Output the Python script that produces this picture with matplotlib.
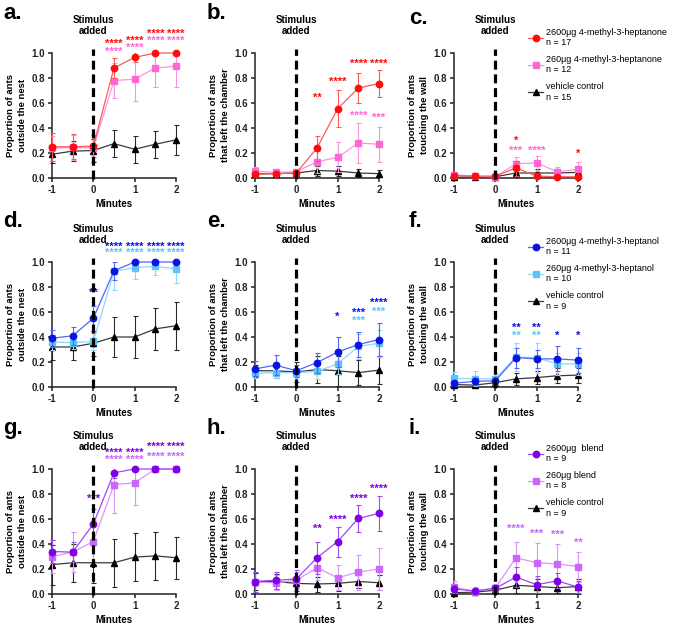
import matplotlib
matplotlib.use('Agg')
import matplotlib.pyplot as plt
from matplotlib.patches import Rectangle
from matplotlib.transforms import blended_transform_factory

plt.rcParams['font.family'] = ['Liberation Sans', 'DejaVu Sans']
plt.rcParams['axes.unicode_minus'] = False

minutes = [-1, -0.5, 0, 0.5, 1, 1.5, 2]

# row 1 - 4-methyl-3-heptanone
a_high = [0.25, 0.25, 0.255, 0.88, 0.965, 1.0, 1.0]
a_high_err = [0.11, 0.10, 0.09, 0.08, 0.04, 0.0, 0.0]
a_low = [0.24, 0.245, 0.24, 0.78, 0.79, 0.88, 0.895]
a_low_err = [0.10, 0.10, 0.10, 0.14, 0.17, 0.15, 0.17]
a_veh = [0.19, 0.215, 0.22, 0.275, 0.23, 0.27, 0.305]
a_veh_err = [0.07, 0.08, 0.09, 0.11, 0.11, 0.11, 0.12]

b_high = [0.03, 0.035, 0.04, 0.24, 0.555, 0.72, 0.755]
b_high_err = [0.02, 0.02, 0.02, 0.10, 0.15, 0.12, 0.11]
b_low = [0.055, 0.045, 0.05, 0.13, 0.165, 0.28, 0.27]
b_low_err = [0.03, 0.02, 0.02, 0.09, 0.12, 0.16, 0.14]
b_veh = [0.035, 0.035, 0.04, 0.06, 0.055, 0.04, 0.035]
b_veh_err = [0.02, 0.02, 0.02, 0.04, 0.04, 0.03, 0.03]

c_high = [0.02, 0.015, 0.015, 0.08, 0.015, 0.01, 0.01]
c_high_err = [0.02, 0.01, 0.01, 0.06, 0.02, 0.01, 0.01]
c_low = [0.025, 0.015, 0.01, 0.115, 0.12, 0.05, 0.07]
c_low_err = [0.02, 0.01, 0.01, 0.05, 0.06, 0.04, 0.06]
c_veh = [0.005, 0.01, 0.01, 0.04, 0.04, 0.04, 0.045]
c_veh_err = [0.01, 0.01, 0.01, 0.03, 0.03, 0.03, 0.03]

# row 2 - 4-methyl-3-heptanol
d_high = [0.39, 0.41, 0.55, 0.93, 1.0, 1.0, 1.0]
d_high_err = [0.07, 0.07, 0.10, 0.07, 0.0, 0.0, 0.0]
d_low = [0.36, 0.355, 0.365, 0.925, 0.955, 0.965, 0.945]
d_low_err = [0.06, 0.05, 0.07, 0.15, 0.09, 0.07, 0.11]
d_veh = [0.32, 0.32, 0.35, 0.40, 0.40, 0.465, 0.49]
d_veh_err = [0.10, 0.10, 0.10, 0.16, 0.17, 0.17, 0.19]

e_high = [0.145, 0.175, 0.13, 0.195, 0.28, 0.34, 0.38]
e_high_err = [0.06, 0.08, 0.05, 0.08, 0.12, 0.10, 0.13]
e_low = [0.11, 0.115, 0.115, 0.125, 0.185, 0.325, 0.35]
e_low_err = [0.04, 0.04, 0.04, 0.06, 0.08, 0.10, 0.11]
e_veh = [0.13, 0.13, 0.12, 0.14, 0.13, 0.115, 0.135]
e_veh_err = [0.05, 0.06, 0.08, 0.11, 0.12, 0.10, 0.11]

f_high = [0.03, 0.045, 0.05, 0.235, 0.225, 0.225, 0.215]
f_high_err = [0.02, 0.03, 0.03, 0.08, 0.07, 0.10, 0.10]
f_low = [0.07, 0.065, 0.065, 0.24, 0.235, 0.185, 0.185]
f_low_err = [0.05, 0.06, 0.05, 0.11, 0.12, 0.09, 0.09]
f_veh = [0.02, 0.015, 0.035, 0.065, 0.075, 0.09, 0.095]
f_veh_err = [0.02, 0.02, 0.02, 0.05, 0.05, 0.06, 0.06]

# row 3 - blend
g_high = [0.34, 0.335, 0.56, 0.97, 1.0, 1.0, 1.0]
g_high_err = [0.09, 0.08, 0.12, 0.04, 0.0, 0.0, 0.0]
g_low = [0.30, 0.335, 0.42, 0.875, 0.89, 1.0, 1.0]
g_low_err = [0.13, 0.16, 0.17, 0.23, 0.18, 0.0, 0.0]
g_veh = [0.235, 0.25, 0.25, 0.25, 0.295, 0.305, 0.29]
g_veh_err = [0.16, 0.15, 0.16, 0.19, 0.19, 0.19, 0.17]

h_high = [0.10, 0.11, 0.12, 0.29, 0.42, 0.605, 0.645]
h_high_err = [0.08, 0.07, 0.07, 0.13, 0.12, 0.11, 0.14]
h_low = [0.095, 0.09, 0.11, 0.21, 0.13, 0.175, 0.20]
h_low_err = [0.08, 0.06, 0.07, 0.10, 0.10, 0.14, 0.17]
h_veh = [0.10, 0.10, 0.085, 0.08, 0.085, 0.10, 0.09]
h_veh_err = [0.07, 0.06, 0.06, 0.06, 0.06, 0.05, 0.06]

i_high = [0.04, 0.025, 0.045, 0.135, 0.075, 0.105, 0.055]
i_high_err = [0.03, 0.02, 0.03, 0.08, 0.07, 0.06, 0.05]
i_low = [0.055, 0.02, 0.05, 0.29, 0.25, 0.24, 0.22]
i_low_err = [0.05, 0.04, 0.03, 0.13, 0.16, 0.16, 0.12]
i_veh = [0.01, 0.015, 0.03, 0.07, 0.06, 0.05, 0.06]
i_veh_err = [0.02, 0.01, 0.02, 0.06, 0.06, 0.04, 0.06]

# significance stars: (minute, height, stars, 'high'/'low')
a_stars = [(0.5, 1.07, '****', 'high'), (0.5, 1.01, '****', 'low'),
           (1, 1.10, '****', 'high'), (1, 1.04, '****', 'low'),
           (1.5, 1.15, '****', 'high'), (1.5, 1.10, '****', 'low'),
           (2, 1.15, '****', 'high'), (2, 1.10, '****', 'low')]
b_stars = [(0.5, 0.64, '**', 'high'), (1, 0.77, '****', 'high'),
           (1.5, 0.91, '****', 'high'), (2, 0.91, '****', 'high'),
           (1.5, 0.50, '****', 'low'), (2, 0.48, '***', 'low')]
c_stars = [(0.5, 0.30, '*', 'high'), (0.5, 0.22, '***', 'low'),
           (1, 0.22, '****', 'low'), (2, 0.19, '*', 'high')]
d_stars = [(0, 0.75, '**', 'high')] + \
          [(m, 1.125, '****', 'high') for m in [0.5, 1, 1.5, 2]] + \
          [(m, 1.07, '****', 'low') for m in [0.5, 1, 1.5, 2]]
e_stars = [(1, 0.56, '*', 'high'), (1.5, 0.59, '***', 'high'), (1.5, 0.53, '***', 'low'),
           (2, 0.67, '****', 'high'), (2, 0.60, '***', 'low')]
f_stars = [(0.5, 0.47, '**', 'high'), (0.5, 0.41, '**', 'low'),
           (1, 0.47, '**', 'high'), (1, 0.41, '**', 'low'),
           (1.5, 0.41, '*', 'high'), (2, 0.41, '*', 'high')]
g_stars = [(0, 0.76, '***', 'high'),
           (0.5, 1.13, '****', 'high'), (0.5, 1.07, '****', 'low'),
           (1, 1.13, '****', 'high'), (1, 1.07, '****', 'low'),
           (1.5, 1.18, '****', 'high'), (1.5, 1.10, '****', 'low'),
           (2, 1.18, '****', 'high'), (2, 1.10, '****', 'low')]
h_stars = [(0.5, 0.52, '**', 'high'), (1, 0.59, '****', 'high'),
           (1.5, 0.76, '****', 'high'), (2, 0.84, '****', 'high')]
i_stars = [(0.5, 0.52, '****', 'low'), (1, 0.48, '***', 'low'),
           (1.5, 0.47, '***', 'low'), (2, 0.41, '**', 'low')]

ylabels = ['Proportion of ants\noutside the nest',
           'Proportion of ants\nthat left the chamber',
           'Proportion of ants\ntouching the wall']

row_labels = [['2600\u03bcg 4-methyl-3-heptanone\nn = 17', '260\u03bcg 4-methyl-3-heptanone\nn = 12', 'vehicle control\nn = 15'],
              ['2600\u03bcg 4-methyl-3-heptanol\nn = 11', '260\u03bcg 4-methyl-3-heptanol\nn = 10', 'vehicle control\nn = 9'],
              ['2600\u03bcg  blend\nn = 9', '260\u03bcg blend\nn = 8', 'vehicle control\nn = 9']]

# marker colour, line colour
row_colors = [{'high': ('#FF0D0D', '#FF5A5A'), 'low': ('#FF66D6', '#FF92E2')},
              {'high': ('#0A14E0', '#5563FF'), 'low': ('#5CC4F6', '#8FD8FA')},
              {'high': ('#7F00E6', '#A048F2'), 'low': ('#CB66FA', '#DA95FC')}]

panels = [[('a.', a_high, a_high_err, a_low, a_low_err, a_veh, a_veh_err, a_stars),
           ('b.', b_high, b_high_err, b_low, b_low_err, b_veh, b_veh_err, b_stars),
           ('c.', c_high, c_high_err, c_low, c_low_err, c_veh, c_veh_err, c_stars)],
          [('d.', d_high, d_high_err, d_low, d_low_err, d_veh, d_veh_err, d_stars),
           ('e.', e_high, e_high_err, e_low, e_low_err, e_veh, e_veh_err, e_stars),
           ('f.', f_high, f_high_err, f_low, f_low_err, f_veh, f_veh_err, f_stars)],
          [('g.', g_high, g_high_err, g_low, g_low_err, g_veh, g_veh_err, g_stars),
           ('h.', h_high, h_high_err, h_low, h_low_err, h_veh, h_veh_err, h_stars),
           ('i.', i_high, i_high_err, i_low, i_low_err, i_veh, i_veh_err, i_stars)]]

W, H = 676, 624
fig = plt.figure(figsize=(W / 100, H / 100), dpi=100)

col_left = [52, 255, 454]
row_bottom = [178, 387, 594]
label_x = [3, 207, 409]
label_base = [[19, 19, 24], [227, 227, 227], [434, 434, 434]]


def bars(ax, y, err, color, z):
    # error bars are kept inside 0..1 but may poke out sideways at -1 and 2
    cont = ax.errorbar(minutes, y, yerr=err, fmt='none', ecolor=color, elinewidth=0.8,
                       capsize=1.8, capthick=0.8, zorder=z)
    box = Rectangle((-0.1, 0), 1.2, 1, transform=blended_transform_factory(ax.transAxes, ax.transData))
    for art in list(cont.lines[1]) + list(cont.lines[2]):
        art.set_clip_path(box)


for r in range(3):
    cols = row_colors[r]
    for c in range(3):
        name, hi, hi_e, lo, lo_e, vh, vh_e, stars = panels[r][c]
        ax = fig.add_axes([col_left[c] / W, 1 - row_bottom[r] / H, 124 / W, 125 / H])

        # vehicle
        bars(ax, vh, vh_e, '#2a2a2a', 2)
        ax.plot(minutes, vh, color='#3a3a3a', lw=0.9, marker='^', ms=3.8, mfc='black', mec='black',
                clip_on=False, zorder=3, label=row_labels[r][2])
        # low dose
        bars(ax, lo, lo_e, cols['low'][1], 3)
        ax.plot(minutes, lo, color=cols['low'][1], lw=0.9, marker='s', ms=4.3, mfc=cols['low'][0],
                mec=cols['low'][0], clip_on=False, zorder=4, label=row_labels[r][1])
        # high dose
        bars(ax, hi, hi_e, cols['high'][1], 4)
        ax.plot(minutes, hi, color=cols['high'][1], lw=0.9, marker='o', ms=4.6, mfc=cols['high'][0],
                mec=cols['high'][0], clip_on=False, zorder=5, label=row_labels[r][0])

        ax.axvline(0, ymin=-0.01, ymax=1.03, color='black', lw=2.3, dashes=(2.8, 1.5),
                   clip_on=False, zorder=6)

        for (m, yy, s, grp) in stars:
            ax.text(m, yy, s, ha='center', va='center', color=cols[grp][0], fontsize=8,
                    fontweight='bold', clip_on=False)

        ax.text(0, 1.22, 'Stimulus\nadded', ha='center', va='center', fontsize=7,
                fontweight='bold', linespacing=1.1)

        ax.set_xlim(-1, 2)
        ax.set_ylim(0, 1)
        ax.set_xticks([-1, 0, 1, 2])
        ax.set_yticks([0, 0.2, 0.4, 0.6, 0.8, 1.0])
        ax.set_yticklabels(['0.0', '0.2', '0.4', '0.6', '0.8', '1.0'])
        for s in ['top', 'right']:
            ax.spines[s].set_visible(False)
        for s in ['left', 'bottom']:
            ax.spines[s].set_linewidth(1.1)
            ax.spines[s].set_color('#222222')
        ax.tick_params(direction='out', length=3, width=1.1, pad=2, labelsize=7, colors='#222222')
        for t in ax.get_xticklabels() + ax.get_yticklabels():
            t.set_fontweight('bold')
        ax.set_xlabel('Minutes', fontsize=7, fontweight='bold', labelpad=3)
        ax.set_ylabel(ylabels[c], fontsize=6.8, fontweight='bold', labelpad=3, linespacing=1.45)

        fig.text(label_x[c] / W, 1 - label_base[r][c] / H, name, fontsize=16,
                 fontweight='bold', va='baseline')

        if c == 2:
            h, l = ax.get_legend_handles_labels()
            ax.legend(h[::-1], l[::-1], loc='upper left', bbox_to_anchor=(0.6, 1.2),
                      frameon=False, fontsize=6.5, handlelength=1.6, handletextpad=0.4,
                      labelspacing=0.85, borderpad=0, borderaxespad=0)

fig.savefig('out.png', dpi=100)
